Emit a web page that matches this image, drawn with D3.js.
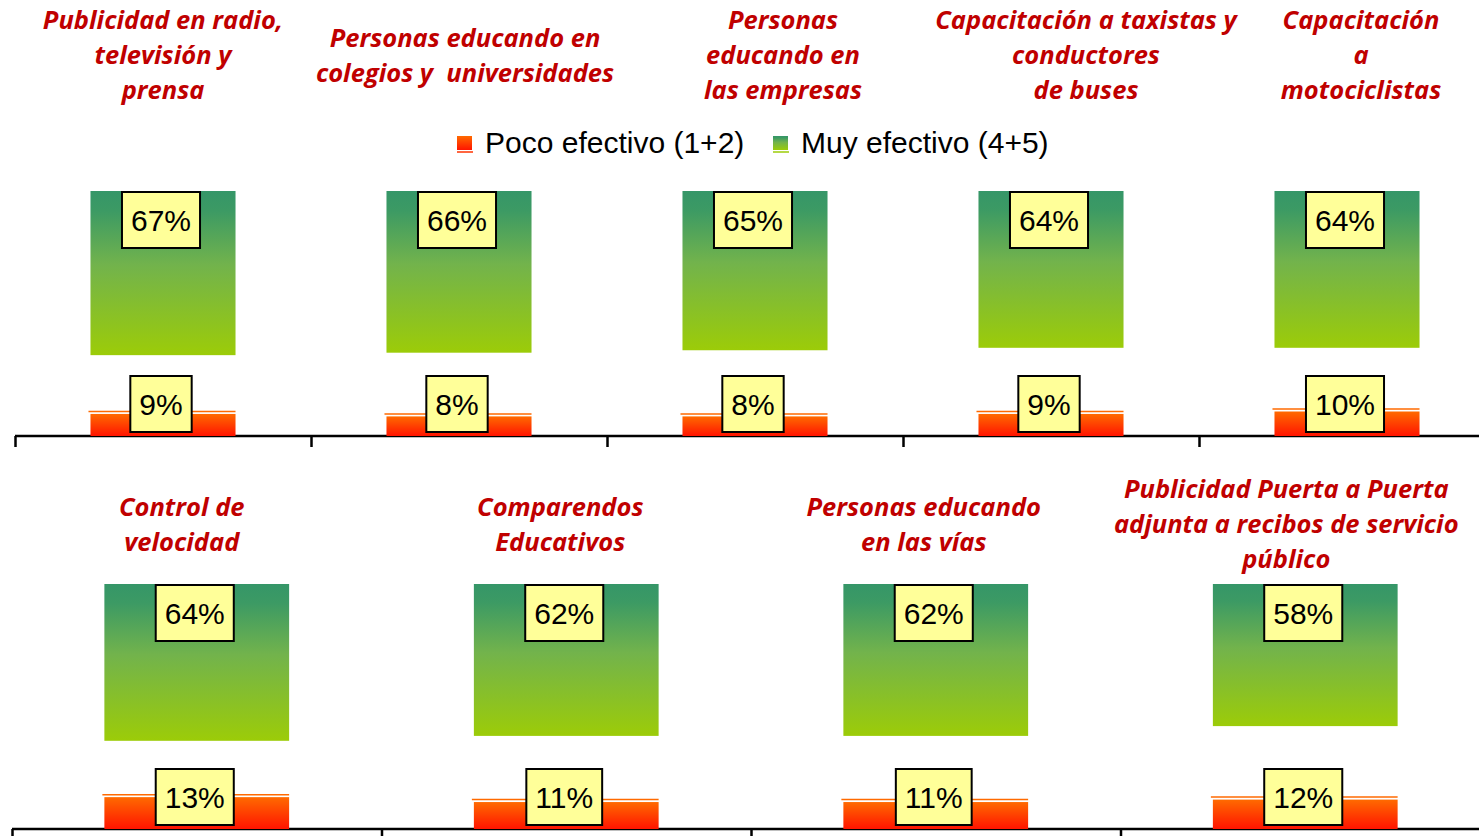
<!DOCTYPE html>
<html>
<head>
  <meta charset="utf-8">
  <script src="https://d3js.org/d3.v7.min.js"></script>
  <style>
    body { margin: 0; background: #fff; }
    .title { font-family: "Open Sans", sans-serif; font-weight: bold; font-style: italic; font-size: 25.5px; fill: #c00000; }
    .lbl { font-family: "Liberation Sans", Arial, sans-serif; font-size: 30px; fill: #000; }
    .legend { font-family: "Liberation Sans", Arial, sans-serif; font-size: 30px; fill: #000; }
  </style>
</head>
<body>
  <script>
    // data
    var seriesNames = ["Poco efectivo (1+2)", "Muy efectivo (4+5)"];

    var topCats = [
      "Publicidad en radio,\ntelevisión y\nprensa",
      "Personas educando en\ncolegios y  universidades",
      "Personas\neducando en\nlas empresas",
      "Capacitación a taxistas y\nconductores\nde buses",
      "Capacitación\na\nmotociclistas"
    ];
    var topPoco = [9, 8, 8, 9, 10];
    var topMuy = [67, 66, 65, 64, 64];

    var bottomCats = [
      "Control de\nvelocidad",
      "Comparendos\nEducativos",
      "Personas educando\nen las vías",
      "Publicidad Puerta a Puerta\nadjunta a recibos de servicio\npúblico"
    ];
    var bottomPoco = [13, 11, 11, 12];
    var bottomMuy = [64, 62, 62, 58];

    var W = 1479, H = 836;
    var svg = d3.select("body").append("svg")
      .attr("width", W).attr("height", H);

    // gradients
    var defs = svg.append("defs");
    var g1 = defs.append("linearGradient").attr("id", "gGreen")
      .attr("x1", 0).attr("y1", 0).attr("x2", 0).attr("y2", 1);
    g1.append("stop").attr("offset", "0%").attr("stop-color", "#359668");
    g1.append("stop").attr("offset", "12%").attr("stop-color", "#3c9a64");
    g1.append("stop").attr("offset", "45%").attr("stop-color", "#72b34c");
    g1.append("stop").attr("offset", "100%").attr("stop-color", "#9ccc08");
    var g2 = defs.append("linearGradient").attr("id", "gOrange")
      .attr("x1", 0).attr("y1", 0).attr("x2", 0).attr("y2", 1);
    g2.append("stop").attr("offset", "0%").attr("stop-color", "#ff6a00");
    g2.append("stop").attr("offset", "100%").attr("stop-color", "#ff1400");

    function panel(cats, poco, muy, opt) {
      var n = cats.length;
      var x = d3.scaleBand().domain(d3.range(n))
        .range([opt.x0, opt.x0 + opt.step * n])
        .paddingInner(opt.pad).paddingOuter(opt.pad / 2);
      var y = d3.scaleLinear().domain([0, 100]).range([opt.base, opt.top]);
      var g = svg.append("g");

      // axis with ticks on category boundaries
      var xb = d3.scaleLinear().domain([0, n]).range([opt.x0, opt.x0 + opt.step * n]);
      g.append("g")
        .attr("transform", "translate(0," + opt.base + ")")
        .call(d3.axisBottom(xb).ticks(n).tickFormat("").tickSize(11).tickSizeOuter(0))
        .call(function (a) {
          a.select(".domain").attr("stroke", "#000").attr("stroke-width", 2.5)
            .attr("d", "M" + opt.x0 + ",0H" + W);
          a.selectAll(".tick line").attr("stroke", "#000").attr("stroke-width", 2.5);
        });

      // green bars: top segment of a 100% stack (neutral part left empty)
      g.selectAll(".muy").data(muy).enter().append("rect")
        .attr("x", function (d, i) { return x(i); })
        .attr("width", x.bandwidth())
        .attr("y", y(100))
        .attr("height", function (d) { return y(100 - d) - y(100); })
        .attr("fill", "url(#gGreen)");

      // orange bars
      g.selectAll(".poco").data(poco).enter().append("rect")
        .attr("x", function (d, i) { return x(i); })
        .attr("width", x.bandwidth())
        .attr("y", function (d) { return y(d); })
        .attr("height", function (d) { return y(0) - y(d); })
        .attr("fill", "url(#gOrange)");
      g.selectAll(".pocoLine").data(poco).enter().append("line")
        .attr("x1", function (d, i) { return x(i) - 2; })
        .attr("x2", function (d, i) { return x(i) + x.bandwidth(); })
        .attr("y1", function (d) { return y(d) - 2.5; })
        .attr("y2", function (d) { return y(d) - 2.5; })
        .attr("stroke", "#ff6a00").attr("stroke-width", 1.5);

      // labels in yellow boxes
      function box(cx, yTop, txt) {
        var t = g.append("text").attr("class", "lbl")
          .attr("x", cx).attr("y", yTop + 39)
          .attr("text-anchor", "middle").text(txt);
        var w = t.node().getComputedTextLength() + 18;
        g.insert("rect", function () { return t.node(); })
          .attr("x", cx - w / 2).attr("y", yTop)
          .attr("width", w).attr("height", 56)
          .attr("fill", "#ffff99").attr("stroke", "#000").attr("stroke-width", 2);
      }
      muy.forEach(function (d, i) {
        box(x(i) + x.bandwidth() / 2 - 2, y(100) + 1, d + "%");
      });
      poco.forEach(function (d, i) {
        box(x(i) + x.bandwidth() / 2 - 2, y(0) - 60, d + "%");
      });

      // category titles
      cats.forEach(function (c, i) {
        var lines = c.split("\n");
        var cx = x(i) + x.bandwidth() / 2 + opt.titleDx[i];
        var y0 = opt.titleY - (lines.length - 1) * 35 / 2 + 9;
        var t = g.append("text").attr("class", "title")
          .attr("text-anchor", "middle")
          .attr("xml:space", "preserve").style("white-space", "pre");
        lines.forEach(function (l, k) {
          t.append("tspan").attr("x", cx).attr("y", y0 + k * 35).text(l);
        });
      });
    }

    panel(topCats, topPoco, topMuy, {
      x0: 15, step: 296, pad: 0.51, base: 436, top: 191,
      titleY: 55, titleDx: [0, 6, 28, 35, 14]
    });
    panel(bottomCats, bottomPoco, bottomMuy, {
      x0: 12, step: 369.5, pad: 0.5, base: 829, top: 584,
      titleY: 524, titleDx: [-15, -6, -12, -19]
    });

    // legend
    var legend = svg.append("g");
    var fills = ["url(#gOrange)", "url(#gGreen)"];
    var under = ["#ff3300", "#9ccc08"];
    var lx = [457, 773];
    seriesNames.forEach(function (s, i) {
      legend.append("rect").attr("x", lx[i]).attr("y", 136)
        .attr("width", 15).attr("height", 14).attr("fill", fills[i]);
      legend.append("line").attr("x1", lx[i]).attr("x2", lx[i] + 16)
        .attr("y1", 152).attr("y2", 152)
        .attr("stroke", under[i]).attr("stroke-width", 1.5);
      legend.append("text").attr("class", "legend")
        .attr("x", lx[i] + 28).attr("y", 153).text(s);
    });
  </script>
</body>
</html>
